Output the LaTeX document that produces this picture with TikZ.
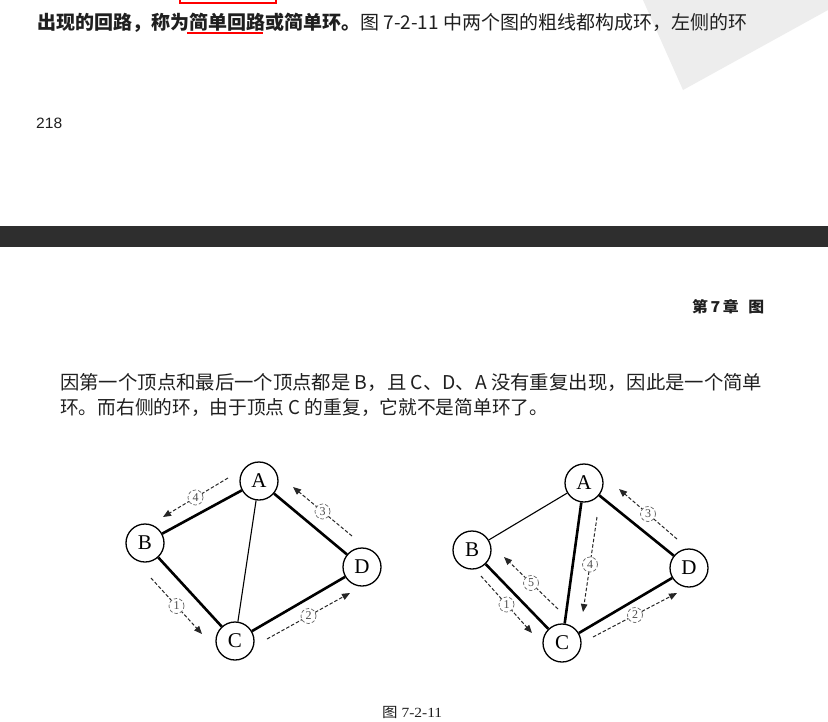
\documentclass[tikz,border=0pt]{standalone}
\usepackage{fontspec}
\usepackage{graphicx}
\setmainfont{Liberation Serif}
\newfontfamily\cjk{Noto Sans CJK SC}
\newfontfamily\arialf{Liberation Sans}
\usetikzlibrary{arrows.meta}
\begin{document}
\begin{tikzpicture}[x=1pt,y=-1pt,
  vert/.style={circle, draw, line width=1.3pt, minimum size=38pt, inner sep=0pt,
    font=\fontsize{21}{21}\selectfont, fill=white},
  thickedge/.style={line width=2.6pt},
  thinedge/.style={line width=1.1pt},
  walk/.style={dash pattern=on 3.5pt off 2pt, line width=1pt, draw=black!85,
    -{Triangle[length=8pt,width=6.5pt]}},
  num/.style={circle, draw=black!60, fill=white, line width=0.7pt, minimum size=15pt,
    inner sep=0pt, font=\fontsize{12}{12}\selectfont, text=black!70, pos=0.5},
  txt/.style={anchor=west, inner sep=0pt, text=black!88}]
\useasboundingbox (0,0) rectangle (828,721);
\fill[white] (0,0) rectangle (828,721);
% watermark shape
\fill[black!7] (643,0) -- (683,90) -- (828,10) -- (828,0) -- cycle;
% top page fragment
\draw[red, line width=1.6pt] (180,-2) -- (180,3) -- (276,3) -- (276,-2);
\node[txt] (topline) at (37,23) {\resizebox{710pt}{\height}{\fontsize{19}{19}\selectfont\cjk\bfseries 出现的回路，称为简单回路或简单环。\mdseries 图 7-2-11 中两个图的粗线都构成环，左侧的环}};
\draw[red, line width=1.6pt] (187,33) -- (263,33);
\node[txt] (pageno) at (36,123) {\resizebox{26pt}{\height}{\fontsize{15}{15}\selectfont\arialf 218}};
% dark band
\fill[black!82] (0,226) rectangle (828,247);
% chapter header
\node[txt] (chap) at (692,307) {\resizebox{72pt}{\height}{\fontsize{15}{15}\selectfont\cjk\bfseries 第\,7\,章\hspace{0.6em}图}};
% paragraph
\node[txt] (para1) at (60,382) {\resizebox{702pt}{\height}{\fontsize{19}{19}\selectfont\cjk 因第一个顶点和最后一个顶点都是 B，且 C、D、A 没有重复出现，因此是一个简单}};
\node[txt] (para2) at (60,407) {\resizebox{488pt}{\height}{\fontsize{19}{19}\selectfont\cjk 环。而右侧的环，由于顶点 C 的重复，它就不是简单环了。}};
% ---------- left graph
\node[vert] (LA) at (259,481) {A};
\node[vert] (LB) at (145,543) {B};
\node[vert] (LC) at (235,641) {C};
\node[vert] (LD) at (362,567) {D};
\draw[thickedge] (LA) -- (LB);
\draw[thickedge] (LB) -- (LC);
\draw[thickedge] (LC) -- (LD);
\draw[thickedge] (LD) -- (LA);
\draw[thinedge] (LA) -- (LC);
\coordinate (l4s) at (228,478); \coordinate (l4e) at (163,517);
\coordinate (l3s) at (352,536); \coordinate (l3e) at (293,487);
\coordinate (l1s) at (151,578); \coordinate (l1e) at (202,634);
\coordinate (l2s) at (267,639); \coordinate (l2e) at (350,593);
\draw[walk] (l1s) -- node[num] {1} (l1e);
\draw[walk] (l2s) -- node[num] {2} (l2e);
\draw[walk] (l3s) -- node[num] {3} (l3e);
\draw[walk] (l4s) -- node[num] {4} (l4e);
% ---------- right graph
\node[vert] (RA) at (584,483) {A};
\node[vert] (RB) at (472,550) {B};
\node[vert] (RC) at (562,643) {C};
\node[vert] (RD) at (689,568) {D};
\draw[thinedge] (RA) -- (RB);
\draw[thickedge] (RB) -- (RC);
\draw[thickedge] (RC) -- (RD);
\draw[thickedge] (RD) -- (RA);
\draw[thickedge] (RA) -- (RC);
\coordinate (r1s) at (481,576); \coordinate (r1e) at (532,633);
\coordinate (r2s) at (593,637); \coordinate (r2e) at (677,593);
\coordinate (r3s) at (677,539); \coordinate (r3e) at (619,489);
\coordinate (r4s) at (597,517); \coordinate (r4e) at (583,612);
\coordinate (r5s) at (558,609); \coordinate (r5e) at (504,557);
\draw[walk] (r1s) -- node[num] {1} (r1e);
\draw[walk] (r2s) -- node[num] {2} (r2e);
\draw[walk] (r3s) -- node[num] {3} (r3e);
\draw[walk] (r4s) -- node[num] {4} (r4e);
\draw[walk] (r5s) -- node[num] {5} (r5e);
% caption
\node[txt] (cap) at (382,712) {\resizebox{60pt}{\height}{\fontsize{14}{14}\selectfont{\cjk 图} 7-2-11}};
\end{tikzpicture}
\end{document}
